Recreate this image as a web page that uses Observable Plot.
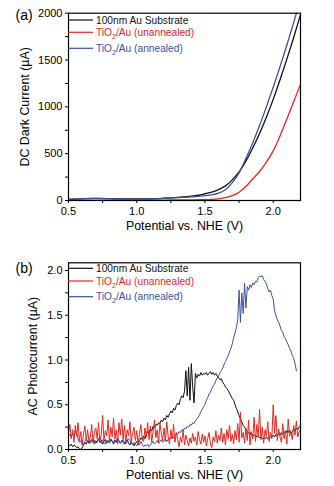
<!DOCTYPE html>
<html>
<head>
<meta charset="utf-8">
<script src="https://cdn.jsdelivr.net/npm/d3@7"></script>
<script src="https://cdn.jsdelivr.net/npm/@observablehq/plot@0.6"></script>
<style>
  html, body { margin: 0; padding: 0; background: #fff; }
  #wrap { position: relative; width: 334px; height: 486px; background: #fff; overflow: hidden; }
  #wrap svg { position: absolute; left: 0; }
</style>
</head>
<body>
<div id="wrap"></div>
<script>
// ---------- DATA ----------
const seriesNames = ["100nm Au Substrate", "TiO2/Au (unannealed)", "TiO2/Au (annealed)"];
const seriesColors = ["#111111", "#e8261f", "#3a51a6"];

// Panel (a): DC dark current (µA) vs potential (V)
const voltsA = [0.5, 0.6, 0.7, 0.8, 0.9, 1.0, 1.1, 1.2, 1.3, 1.4, 1.45, 1.5, 1.55, 1.6, 1.65, 1.7, 1.75, 1.8, 1.85, 1.9, 1.95, 2.0, 2.05, 2.1, 2.15, 2.2];
const darkAu        = [10, 18, 22, 20, 17, 16, 18, 25, 34, 46, 56, 72, 90, 116, 156, 220, 305, 420, 560, 715, 890, 1080, 1290, 1510, 1740, 1985];
const darkUnannealed = [2, 3, 4, 4, 4, 4, 5, 5, 6, 7, 8, 9, 12, 18, 30, 52, 88, 150, 230, 310, 410, 530, 690, 870, 1055, 1240];
const darkAnnealed   = [15, 20, 22, 20, 16, 14, 16, 22, 30, 38, 44, 52, 60, 78, 115, 190, 295, 450, 615, 800, 1000, 1210, 1430, 1660, 1900, 2150];

// Panel (b): AC photocurrent (µA), sampled every 0.01 V from 0.50 V
const voltStartB = 0.5;
const voltStepB = 0.01;
const acAu = [
  0.05, 0.04, 0.06, 0.03, 0.05, 0.04, 0.02, 0.03, 0.01, 0.00,
  0.02, 0.05, 0.08, 0.06, 0.10, 0.07, 0.09, 0.11, 0.08, 0.10,
  0.07, 0.09, 0.12, 0.08, 0.10, 0.06, 0.09, 0.11, 0.07, 0.10,
  0.08, 0.11, 0.09, 0.06, 0.10, 0.08, 0.12, 0.09, 0.07, 0.10,
  0.08, 0.06, 0.09, 0.11, 0.07, 0.05, 0.08, 0.06, 0.04, 0.07,
  0.09, 0.06, 0.10, 0.13, 0.11, 0.15, 0.12, 0.17, 0.20, 0.18,
  0.23, 0.21, 0.26, 0.24, 0.28, 0.27, 0.30, 0.29, 0.33, 0.31,
  0.35, 0.33, 0.38, 0.36, 0.40, 0.43, 0.41, 0.46, 0.44, 0.49,
  0.52, 0.50, 0.56, 0.60, 0.58, 0.65, 0.88, 0.60, 0.92, 0.55,
  0.96, 0.70, 0.52, 0.85, 0.80, 0.84, 0.82, 0.86, 0.83, 0.85,
  0.84, 0.86, 0.83, 0.85, 0.87, 0.84, 0.86, 0.83, 0.85, 0.82,
  0.80, 0.78, 0.79, 0.75, 0.73, 0.70, 0.68, 0.66, 0.63, 0.60,
  0.57, 0.55, 0.50, 0.46, 0.42, 0.38, 0.34, 0.31, 0.27, 0.25,
  0.22, 0.20, 0.18, 0.19, 0.16, 0.17, 0.15, 0.16, 0.14, 0.15,
  0.13, 0.14, 0.12, 0.13, 0.12, 0.14, 0.12, 0.13, 0.15, 0.14,
  0.16, 0.14, 0.17, 0.15, 0.18, 0.16, 0.19, 0.17, 0.20, 0.18,
  0.21, 0.19, 0.22, 0.18, 0.20, 0.23, 0.21, 0.24, 0.22, 0.25,
  0.26
];
const acUnannealed = [
  0.18, 0.28, 0.12, 0.22, 0.08, 0.27, 0.15, 0.30, 0.10, 0.20,
  0.05, 0.18, 0.26, 0.11, 0.22, 0.09, 0.14, 0.28, 0.07, 0.19,
  0.24, 0.12, 0.30, 0.08, 0.17, 0.38, 0.10, 0.21, 0.15, 0.33,
  0.09, 0.25, 0.14, 0.35, 0.12, 0.22, 0.06, 0.30, 0.16, 0.34,
  0.11, 0.27, 0.08, 0.22, 0.15, 0.31, 0.07, 0.19, 0.25, 0.10,
  0.21, 0.05, 0.17, 0.28, 0.12, 0.09, 0.24, 0.14, 0.30, 0.11,
  0.26, 0.08, 0.20, 0.33, 0.13, 0.22, 0.07, 0.29, 0.18, 0.10,
  0.24, 0.09, 0.31, 0.15, 0.06, 0.22, 0.12, 0.28, 0.08, 0.19,
  0.11, 0.03, 0.14, 0.08, 0.22, 0.05, 0.16, 0.10, 0.04, 0.13,
  0.07, 0.18, 0.09, 0.14, 0.05, 0.20, 0.11, 0.06, 0.17, 0.08,
  0.15, 0.04, 0.12, 0.19, 0.06, 0.02, 0.14, 0.09, 0.21, 0.07,
  0.16, 0.10, 0.24, 0.08, 0.18, 0.05, 0.22, 0.12, 0.27, 0.09,
  0.17, 0.06, 0.21, 0.11, 0.29, 0.08, 0.42, 0.13, 0.19, 0.07,
  0.24, 0.10, 0.33, 0.05, 0.20, 0.12, 0.36, 0.09, 0.28, 0.14,
  0.45, 0.11, 0.25, 0.07, 0.22, 0.15, 0.31, 0.09, 0.19, 0.12,
  0.50, 0.18, 0.38, 0.10, 0.23, 0.14, 0.08, 0.29, 0.12, 0.21,
  0.06, 0.34, 0.15, 0.20, 0.11, 0.27, 0.16, 0.32, 0.14, 0.20,
  0.22
];
const acAnnealed = [
  0.15, 0.17, 0.14, 0.18, 0.16, 0.21, 0.19, 0.12, 0.08, 0.10,
  0.06, 0.05, 0.09, 0.12, 0.08, 0.10, 0.07, 0.11, 0.09, 0.06,
  0.10, 0.08, 0.12, 0.09, 0.07, 0.11, 0.08, 0.06, 0.10, 0.09,
  0.07, 0.12, 0.10, 0.08, 0.11, 0.09, 0.13, 0.10, 0.07, 0.09,
  0.11, 0.08, 0.06, 0.09, 0.12, 0.10, 0.07, 0.05, 0.08, 0.06,
  0.04, 0.07, 0.05, 0.09, 0.06, 0.03, 0.05, 0.04, 0.06, 0.03,
  0.05, 0.07, 0.09, 0.06, 0.08, 0.10, 0.07, 0.09, 0.11, 0.08,
  0.10, 0.12, 0.09, 0.11, 0.13, 0.12, 0.15, 0.13, 0.16, 0.18,
  0.17, 0.20, 0.19, 0.22, 0.21, 0.24, 0.23, 0.26, 0.25, 0.28,
  0.27, 0.30, 0.29, 0.32, 0.34, 0.36, 0.39, 0.42, 0.45, 0.48,
  0.50, 0.55, 0.58, 0.62, 0.64, 0.68, 0.71, 0.73, 0.77, 0.80,
  0.82, 0.86, 0.88, 0.91, 0.95, 0.98, 1.02, 1.05, 1.09, 1.13,
  1.18, 1.25, 1.30, 1.36, 1.45, 1.78, 1.42, 1.75, 1.52, 1.86,
  1.58, 1.82, 1.78, 1.84, 1.81, 1.86, 1.84, 1.88, 1.87, 1.92,
  1.94, 1.93, 1.94, 1.90, 1.88, 1.85, 1.80, 1.76, 1.78, 1.72,
  1.68, 1.55, 1.50, 1.45, 1.42, 1.38, 1.33, 1.31, 1.26, 1.24,
  1.20, 1.17, 1.13, 1.10, 1.05, 1.02, 0.96, 0.88
];

// Axis ticks
const xTicks = [0.5, 0.75, 1.0, 1.25, 1.5, 1.75, 2.0];
const xLabeled = [0.5, 1.0, 1.5, 2.0];
const yTicksA = [0, 250, 500, 750, 1000, 1250, 1500, 1750, 2000];
const yLabeledA = [0, 500, 1000, 1500, 2000];
const yTicksB = [0, 0.25, 0.5, 0.75, 1.0, 1.25, 1.5, 1.75, 2.0];
const yLabeledB = [0, 0.5, 1.0, 1.5, 2.0];

// ---------- HELPERS ----------
const FONT = "Liberation Sans, Arial, Helvetica, sans-serif";
const tableA = vals => voltsA.map((v, i) => ({v, y: vals[i]}));
const tableB = vals => vals.map((y, i) => ({v: +(voltStartB + i * voltStepB).toFixed(2), y}));

function legendMark(rowOffsets) {
  return (index, scales, values, dims) => {
    const g = d3.create("svg:g");
    seriesNames.forEach((name, i) => {
      const y = dims.marginTop + rowOffsets[i];
      const x0 = dims.marginLeft;
      g.append("line")
        .attr("x1", x0).attr("x2", x0 + 25).attr("y1", y).attr("y2", y)
        .attr("stroke", seriesColors[i]).attr("stroke-width", 1.2);
      const t = g.append("text")
        .attr("x", x0 + 28).attr("y", y).attr("dy", "0.36em")
        .attr("text-anchor", "start")
        .attr("fill", seriesColors[i]).attr("font-size", 10.2)
        .attr("font-family", FONT);
      const m = name.match(/^(TiO)2(.*)$/);
      if (m) {
        t.append("tspan").text(m[1]);
        t.append("tspan").attr("font-size", 7).attr("dy", "3").text("2");
        t.append("tspan").attr("dy", "-3").text(m[2]);
      } else {
        t.text(name);
      }
    });
    return g.node();
  };
}

function panel({height, marginTop, marginBottom, yDomain, yTicks, yLabeled, yFmt, series, curve, strokeWidth, yTitle, yTitleDx, tag, tagDy, legendRows}) {
  return Plot.plot({
    width: 334,
    height,
    marginLeft: 68,
    marginRight: 34,
    marginTop,
    marginBottom,
    x: {domain: [0.5, 2.2]},
    y: {domain: yDomain},
    style: {fontFamily: FONT, fontSize: "11px", color: "black", background: "none", overflow: "visible"},
    marks: [
      ...series.map((s, i) => Plot.line(s, {x: "v", y: "y", stroke: seriesColors[s.colorIndex], strokeWidth, curve, clip: true})),
      Plot.frame({stroke: "black", strokeWidth: 1.2}),
      Plot.axisX({ticks: xTicks, tickSize: 3, tickPadding: 4, label: null, fontSize: 11,
        tickFormat: d => xLabeled.includes(d) ? d.toFixed(1) : ""}),
      Plot.axisY({ticks: yTicks, tickSize: 3, tickPadding: 3, label: null, fontSize: 11,
        tickFormat: d => yLabeled.includes(d) ? yFmt(d) : ""}),
      Plot.text(["Potential vs. NHE (V)"], {frameAnchor: "bottom", dy: 26, fontSize: 12.4, textAnchor: "middle", lineAnchor: "middle"}),
      Plot.text([yTitle], {frameAnchor: "left", dx: yTitleDx, rotate: -90, fontSize: 12.4, textAnchor: "middle", lineAnchor: "middle"}),
      Plot.text([tag], {frameAnchor: "top-left", dx: -53, dy: tagDy, fontSize: 14, textAnchor: "start", lineAnchor: "middle"}),
      legendMark(legendRows)
    ]
  });
}

// Panel (a)
const sa0 = tableA(darkAu); sa0.colorIndex = 0;
const sa1 = tableA(darkUnannealed); sa1.colorIndex = 1;
const sa2 = tableA(darkAnnealed); sa2.colorIndex = 2;
const plotA = panel({
  height: 240, marginTop: 12.7, marginBottom: 40,
  yDomain: [0, 2000], yTicks: yTicksA, yLabeled: yLabeledA, yFmt: d => String(d),
  series: [sa0, sa1, sa2], curve: "monotone-x", strokeWidth: 1.3,
  yTitle: "DC Dark Current (\u00b5A)", yTitleDx: -43,
  tag: "(a)", tagDy: 2.3, legendRows: [7.3, 19.6, 35.6]
});
plotA.style.top = "0px";

// Panel (b)
const sb0 = tableB(acAu); sb0.colorIndex = 0;
const sb2 = tableB(acAnnealed); sb2.colorIndex = 2;
const sb1 = tableB(acUnannealed); sb1.colorIndex = 1;
const plotB = panel({
  height: 256, marginTop: 32.3, marginBottom: 37,
  yDomain: [0, 2.086], yTicks: yTicksB, yLabeled: yLabeledB, yFmt: d => d.toFixed(1),
  series: [sb0, sb2, sb1], curve: "linear", strokeWidth: 1.0,
  yTitle: "AC Photocurrent (\u00b5A)", yTitleDx: -35,
  tag: "(b)", tagDy: 5.4, legendRows: [6, 18.7, 34.4]
});
plotB.style.top = "230px";

document.getElementById("wrap").append(plotA, plotB);
</script>
</body>
</html>
